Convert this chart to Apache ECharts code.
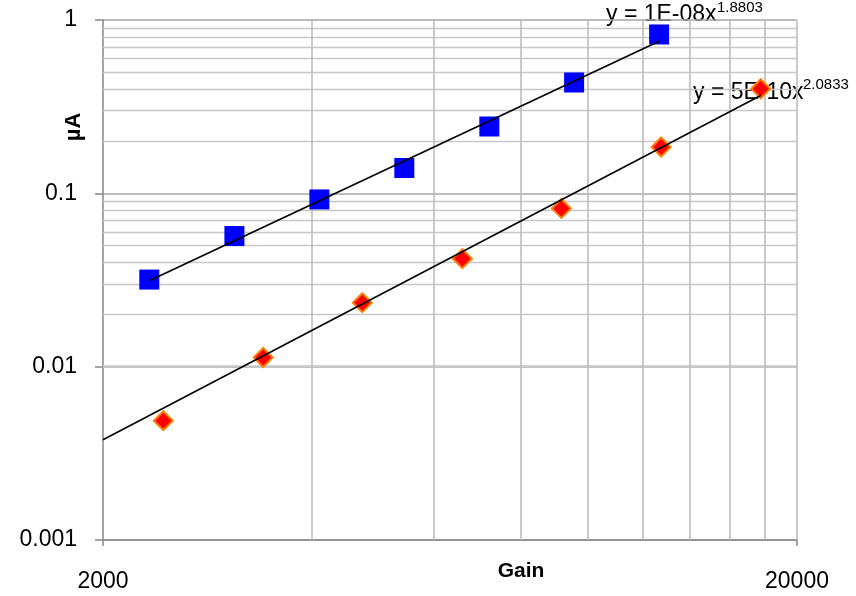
<!DOCTYPE html>
<html>
<head>
<meta charset="utf-8">
<script src="https://cdn.jsdelivr.net/npm/echarts@6/dist/echarts.min.js"></script>
<style>
  html, body { margin: 0; padding: 0; background: #fff; }
  #chart { width: 856px; height: 596px; }
</style>
</head>
<body>
<div id="chart"></div>
<script>
// series 1 (blue squares)
const gainA = [2332, 3093, 4100, 5435, 7206, 9547, 12657]
const currentA = [0.0318, 0.0567, 0.0922, 0.140, 0.243, 0.436, 0.825]
// series 2 (red diamonds)
const gainB = [2443, 3403, 4728, 6589, 9152, 12741, 17731]
const currentB = [0.00488, 0.0113, 0.0234, 0.0420, 0.0818, 0.185, 0.401]

// power trendlines, end points
const trendA = [[2332, 0.0313], [12657, 0.755]]
const trendB = [[2000, 0.00379], [17731, 0.367]]

const xTickLabels = [2000, 20000]
const xGridValues = [4000, 6000, 8000, 10000, 12000, 14000, 16000, 18000, 20000]
const yMinorGrid = [0.002, 0.003, 0.004, 0.005, 0.006, 0.007, 0.008, 0.009,
  0.02, 0.03, 0.04, 0.05, 0.06, 0.07, 0.08, 0.09,
  0.2, 0.3, 0.4, 0.5, 0.6, 0.7, 0.8, 0.9]

const eqA = ['y = 1E-08x', '1.8803']
const eqB = ['y = 5E-10x', '2.0833']

const font = 'Liberation Sans'
const gridMarks = [
  ...yMinorGrid.map(v => ({ yAxis: v, lineStyle: { color: '#c8c8c8', width: 1.3, type: 'solid' } })),
  ...xGridValues.map(v => ({ xAxis: v, lineStyle: { color: '#bdbdbd', width: 1.6, type: 'solid' } }))
]

const option = {
  animation: false,
  grid: { left: 103, right: 59, top: 20, bottom: 56 },
  xAxis: {
    type: 'log',
    logBase: 10,
    min: 2000,
    max: 20000,
    axisLine: { lineStyle: { color: '#868686', width: 1.5 } },
    axisTick: { customValues: xTickLabels, length: 6, lineStyle: { color: '#868686', width: 1.5 } },
    axisLabel: {
      customValues: xTickLabels,
      formatter: v => String(v),
      margin: 30,
      color: '#000',
      fontFamily: font,
      fontSize: 23
    },
    splitLine: { show: false }
  },
  yAxis: {
    type: 'log',
    logBase: 10,
    min: 0.001,
    max: 1,
    axisLine: { show: true, lineStyle: { color: '#868686', width: 1.5 } },
    axisTick: { show: true, length: 8, lineStyle: { color: '#868686', width: 1.5 } },
    axisLabel: { margin: 26, color: '#000', fontFamily: font, fontSize: 23 },
    splitLine: { show: true, lineStyle: { color: '#a6a6a6', width: 1.6 } }
  },
  graphic: [
    { type: 'text', x: 74, y: 127, rotation: Math.PI / 2,
      style: { text: 'µA', fontFamily: font, fontSize: 22, fontWeight: 'bold', fill: '#000',
        align: 'center', verticalAlign: 'middle' } },
    { type: 'text', x: 521, y: 571,
      style: { text: 'Gain', fontFamily: font, fontSize: 21, fontWeight: 'bold', fill: '#000',
        align: 'center', verticalAlign: 'middle' } },
    { type: 'text', x: 606, y: 15,
      style: { text: eqA[0], fontFamily: font, fontSize: 23, fill: '#000', verticalAlign: 'middle' } },
    { type: 'text', x: 717, y: 8,
      style: { text: eqA[1], fontFamily: font, fontSize: 15, fill: '#000', verticalAlign: 'middle' } },
    { type: 'text', x: 693, y: 93,
      style: { text: eqB[0], fontFamily: font, fontSize: 23, fill: '#000', verticalAlign: 'middle' } },
    { type: 'text', x: 803, y: 85,
      style: { text: eqB[1], fontFamily: font, fontSize: 15, fill: '#000', verticalAlign: 'middle' } }
  ],
  series: [
    {
      name: 'grid',
      type: 'scatter',
      data: [],
      z: 1,
      silent: true,
      markLine: { silent: true, z: 1, symbol: 'none', label: { show: false }, animation: false, data: gridMarks }
    },
    {
      name: 'trend A',
      type: 'line',
      z: 3,
      showSymbol: false,
      lineStyle: { color: '#000', width: 1.6 },
      data: trendA
    },
    {
      name: 'trend B',
      type: 'line',
      z: 3,
      showSymbol: false,
      lineStyle: { color: '#000', width: 1.6 },
      data: trendB
    },
    {
      name: 'A',
      type: 'scatter',
      z: 2,
      symbol: 'rect',
      symbolSize: 20,
      itemStyle: { color: '#0000ff', opacity: 1 },
      data: gainA.map((g, i) => [g, currentA[i]])
    },
    {
      name: 'B',
      type: 'scatter',
      z: 2,
      symbol: 'diamond',
      symbolSize: 19,
      itemStyle: { color: '#ff0000', borderColor: '#ff8000', borderWidth: 2, opacity: 1 },
      data: gainB.map((g, i) => [g, currentB[i]])
    }
  ]
}

const chart = echarts.init(document.getElementById('chart'))
chart.setOption(option)
</script>
</body>
</html>
